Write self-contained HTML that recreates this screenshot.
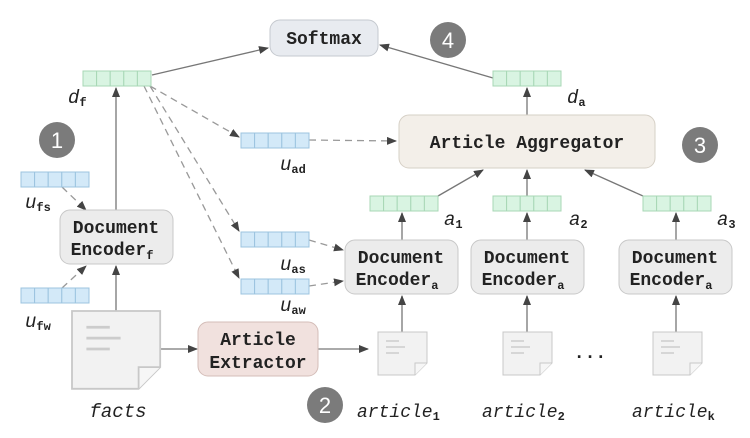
<!DOCTYPE html>
<html><head><meta charset="utf-8"><style>
html,body{margin:0;padding:0;background:#fff}
svg{display:block}
.bx{font-family:"Liberation Mono","DejaVu Sans Mono",monospace;font-weight:bold;font-size:18px;fill:#222}
.lb{font-family:"Liberation Mono","DejaVu Sans Mono",monospace;font-style:italic;font-size:19px;fill:#222}
.sb{font-family:"Liberation Mono","DejaVu Sans Mono",monospace;font-weight:bold;font-style:normal;font-size:12px;fill:#222}
.num{font-family:"Liberation Sans",sans-serif;font-size:22px;fill:#fff}
</style></head><body>
<svg width="750" height="438" viewBox="0 0 750 438" xmlns="http://www.w3.org/2000/svg">
<defs>
<marker id="ar" markerWidth="10" markerHeight="8" refX="9" refY="4" orient="auto" markerUnits="userSpaceOnUse"><path d="M0,0 L10,4 L0,8 z" fill="#444"/></marker>
<g id="vb"><rect x="0" y="0" width="13.6" height="15" fill="#d3e9f8" stroke="#9cc4df"/><rect x="13.6" y="0" width="13.6" height="15" fill="#d3e9f8" stroke="#9cc4df"/><rect x="27.2" y="0" width="13.6" height="15" fill="#d3e9f8" stroke="#9cc4df"/><rect x="40.8" y="0" width="13.6" height="15" fill="#d3e9f8" stroke="#9cc4df"/><rect x="54.4" y="0" width="13.6" height="15" fill="#d3e9f8" stroke="#9cc4df"/></g>
<g id="vg"><rect x="0" y="0" width="13.6" height="15" fill="#d9f4e2" stroke="#a8d7b6"/><rect x="13.6" y="0" width="13.6" height="15" fill="#d9f4e2" stroke="#a8d7b6"/><rect x="27.2" y="0" width="13.6" height="15" fill="#d9f4e2" stroke="#a8d7b6"/><rect x="40.8" y="0" width="13.6" height="15" fill="#d9f4e2" stroke="#a8d7b6"/><rect x="54.4" y="0" width="13.6" height="15" fill="#d9f4e2" stroke="#a8d7b6"/></g>
<g id="doc"><path d="M0,0 H49 V31 L37,43 H0 Z" fill="#f2f2f2" stroke="#c8c8c8"/><path d="M37,43 V31 H49" fill="#f6f6f6" stroke="#c8c8c8"/><line x1="8" y1="9" x2="21" y2="9" stroke="#ccc" stroke-width="1.5"/><line x1="8" y1="15" x2="27" y2="15" stroke="#ccc" stroke-width="1.5"/><line x1="8" y1="21" x2="21" y2="21" stroke="#ccc" stroke-width="1.5"/></g>
</defs>
<g stroke="#777" stroke-width="1.3" fill="none">
<line x1="152" y1="75" x2="268" y2="48" marker-end="url(#ar)"/>
<line x1="493" y1="78" x2="380" y2="45" marker-end="url(#ar)"/>
<line x1="116" y1="210" x2="116" y2="88" marker-end="url(#ar)"/>
<line x1="116" y1="311" x2="116" y2="266" marker-end="url(#ar)"/>
<line x1="160" y1="349" x2="197" y2="349" marker-end="url(#ar)"/>
<line x1="318" y1="349" x2="368" y2="349" marker-end="url(#ar)"/>
<line x1="527" y1="115" x2="527" y2="88" marker-end="url(#ar)"/>
<line x1="438" y1="196" x2="483" y2="170" marker-end="url(#ar)"/>
<line x1="527" y1="196" x2="527" y2="170" marker-end="url(#ar)"/>
<line x1="643" y1="196" x2="585" y2="170" marker-end="url(#ar)"/>
<line x1="402" y1="240" x2="402" y2="213" marker-end="url(#ar)"/>
<line x1="527" y1="240" x2="527" y2="213" marker-end="url(#ar)"/>
<line x1="676" y1="240" x2="676" y2="213" marker-end="url(#ar)"/>
<line x1="402" y1="332" x2="402" y2="296" marker-end="url(#ar)"/>
<line x1="527" y1="332" x2="527" y2="296" marker-end="url(#ar)"/>
<line x1="676" y1="332" x2="676" y2="296" marker-end="url(#ar)"/>
<g stroke-dasharray="7,5" stroke="#999">
<line x1="150" y1="86" x2="239" y2="137" marker-end="url(#ar)"/>
<line x1="150" y1="86" x2="239" y2="231" marker-end="url(#ar)"/>
<line x1="144" y1="86" x2="239" y2="278" marker-end="url(#ar)"/>
<line x1="309" y1="140" x2="396" y2="141" marker-end="url(#ar)"/>
<line x1="309" y1="240" x2="343" y2="250" marker-end="url(#ar)"/>
<line x1="309" y1="286" x2="343" y2="281" marker-end="url(#ar)"/>
<line x1="62" y1="187" x2="86" y2="210" marker-end="url(#ar)"/>
<line x1="62" y1="288" x2="86" y2="266" marker-end="url(#ar)"/>
</g>
</g>
<rect x="270" y="20" width="108" height="36" rx="10" fill="#e8ebf0" stroke="#c5c9cf"/>
<text class="bx" x="324" y="44" text-anchor="middle">Softmax</text>
<rect x="60" y="210" width="113" height="54" rx="10" fill="#ececec" stroke="#c8c8c8"/>
<text class="bx" x="116" y="233" text-anchor="middle">Document</text>
<text class="bx" x="112" y="255" text-anchor="middle">Encoder<tspan class="sb" dy="4">f</tspan></text>
<rect x="198" y="322" width="120" height="54" rx="10" fill="#f1e1de" stroke="#d4bdb8"/>
<text class="bx" x="258" y="345" text-anchor="middle">Article</text>
<text class="bx" x="258" y="368" text-anchor="middle">Extractor</text>
<rect x="399" y="115" width="256" height="53" rx="10" fill="#f3efe9" stroke="#d6d0c6"/>
<text class="bx" x="527" y="148" text-anchor="middle">Article Aggregator</text>
<g>
<rect x="345" y="240" width="113" height="54" rx="10" fill="#ececec" stroke="#c8c8c8"/>
<text class="bx" x="401" y="263" text-anchor="middle">Document</text>
<text class="bx" x="397" y="285" text-anchor="middle">Encoder<tspan class="sb" dy="4">a</tspan></text>
<rect x="471" y="240" width="113" height="54" rx="10" fill="#ececec" stroke="#c8c8c8"/>
<text class="bx" x="527" y="263" text-anchor="middle">Document</text>
<text class="bx" x="523" y="285" text-anchor="middle">Encoder<tspan class="sb" dy="4">a</tspan></text>
<rect x="619" y="240" width="113" height="54" rx="10" fill="#ececec" stroke="#c8c8c8"/>
<text class="bx" x="675" y="263" text-anchor="middle">Document</text>
<text class="bx" x="671" y="285" text-anchor="middle">Encoder<tspan class="sb" dy="4">a</tspan></text>
</g>
<use href="#vg" x="83" y="71"/>
<use href="#vg" x="493" y="71"/>
<use href="#vg" x="370" y="196"/>
<use href="#vg" x="493" y="196"/>
<use href="#vg" x="643" y="196"/>
<use href="#vb" x="21" y="172"/>
<use href="#vb" x="21" y="288"/>
<use href="#vb" x="241" y="133"/>
<use href="#vb" x="241" y="232"/>
<use href="#vb" x="241" y="279"/>
<g transform="translate(72,311) scale(1.8,1.81)"><use href="#doc"/></g>
<use href="#doc" x="378" y="332"/>
<use href="#doc" x="503" y="332"/>
<use href="#doc" x="653" y="332"/>
<text class="bx" x="590" y="358" text-anchor="middle">...</text>
<text class="lb" x="68" y="103">d<tspan class="sb" dy="3">f</tspan></text>
<text class="lb" x="567" y="103">d<tspan class="sb" dy="3">a</tspan></text>
<text class="lb" x="25" y="208">u<tspan class="sb" dy="3">fs</tspan></text>
<text class="lb" x="25" y="327">u<tspan class="sb" dy="3">fw</tspan></text>
<text class="lb" x="280" y="170">u<tspan class="sb" dy="3">ad</tspan></text>
<text class="lb" x="280" y="270">u<tspan class="sb" dy="3">as</tspan></text>
<text class="lb" x="280" y="311">u<tspan class="sb" dy="3">aw</tspan></text>
<text class="lb" x="444" y="225">a<tspan class="sb" dy="3">1</tspan></text>
<text class="lb" x="569" y="225">a<tspan class="sb" dy="3">2</tspan></text>
<text class="lb" x="717" y="225">a<tspan class="sb" dy="3">3</tspan></text>
<text class="lb" x="118" y="417" text-anchor="middle">facts</text>
<text class="lb" x="357" y="417" style="font-size:18px">article<tspan class="sb" dy="3">1</tspan></text>
<text class="lb" x="482" y="417" style="font-size:18px">article<tspan class="sb" dy="3">2</tspan></text>
<text class="lb" x="632" y="417" style="font-size:18px">article<tspan class="sb" dy="3">k</tspan></text>
<circle cx="57" cy="140" r="18" fill="#7b7b7b"/><text class="num" x="57" y="148" text-anchor="middle">1</text>
<circle cx="325" cy="405" r="18" fill="#7b7b7b"/><text class="num" x="325" y="413" text-anchor="middle">2</text>
<circle cx="700" cy="145" r="18" fill="#7b7b7b"/><text class="num" x="700" y="153" text-anchor="middle">3</text>
<circle cx="448" cy="40" r="18" fill="#7b7b7b"/><text class="num" x="448" y="48" text-anchor="middle">4</text>
</svg>
</body></html>
